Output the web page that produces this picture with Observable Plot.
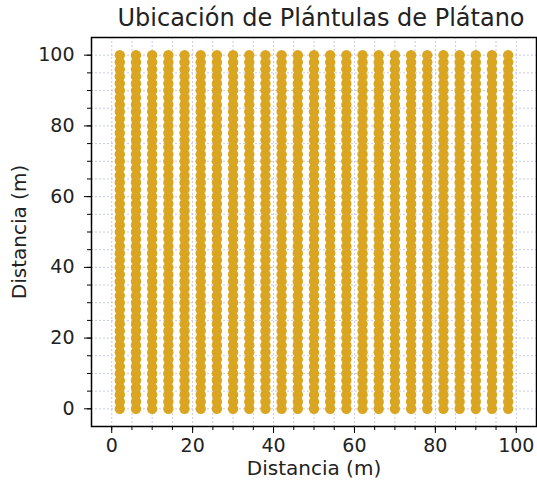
<!DOCTYPE html>
<html>
<head>
<meta charset="utf-8">
<script src="https://cdn.jsdelivr.net/npm/d3@7"></script>
<script src="https://cdn.jsdelivr.net/npm/@observablehq/plot@0.6"></script>
<style>
  html, body { margin: 0; padding: 0; background: #fff; }
  #chart svg { display: block; }
</style>
</head>
<body>
<div id="chart"></div>
<script>
// Column positions (m) of the plant rows
const columnX = [2, 6, 10, 14, 18, 22, 26, 30, 34, 38, 42, 46, 50, 54, 58, 62, 66, 70, 74, 78, 82, 86, 90, 94, 98];
// Positions (m) of the plants along each row
const rowY = [0, 2, 4, 6, 8, 10, 12, 14, 16, 18, 20, 22, 24, 26, 28, 30, 32, 34, 36, 38, 40, 42, 44, 46, 48, 50,
              52, 54, 56, 58, 60, 62, 64, 66, 68, 70, 72, 74, 76, 78, 80, 82, 84, 86, 88, 90, 92, 94, 96, 98, 100];
const majorTicks = [0, 20, 40, 60, 80, 100];
const minorTicks = [0, 5, 10, 15, 20, 25, 30, 35, 40, 45, 50, 55, 60, 65, 70, 75, 80, 85, 90, 95, 100];
const titleText = "Ubicación de Plántulas de Plátano";
const xLabelText = "Distancia (m)";
const yLabelText = "Distancia (m)";

const plants = columnX.flatMap(x => rowY.map(y => ({x, y})));

const gridStyle = {stroke: "#b7bfd6", strokeOpacity: 1, strokeWidth: 0.8, strokeDasharray: "2,2"};

const chart = Plot.plot({
  width: 537,
  height: 481,
  marginLeft: 91,
  marginRight: 1,
  marginTop: 37,
  marginBottom: 55,
  style: {fontFamily: "'DejaVu Sans', sans-serif", fontSize: "19px", color: "#222", background: "#fff"},
  x: {domain: [-5, 105], label: null},
  y: {domain: [-5, 105], label: null},
  marks: [
    Plot.gridX(minorTicks, gridStyle),
    Plot.gridY(minorTicks, gridStyle),
    Plot.dot(plants, {x: "x", y: "y", r: 5.2, fill: "#DAA520", stroke: "none"}),
    Plot.frame({stroke: "#000", strokeWidth: 1.5}),
    Plot.axisX(minorTicks, {tickSize: 4, tickFormat: () => "", label: null, stroke: "#000"}),
    Plot.axisY(minorTicks, {tickSize: 4, tickFormat: () => "", label: null, stroke: "#000"}),
    Plot.axisX(majorTicks, {tickSize: 7, tickPadding: 5, label: null, stroke: "#000", fill: "#222", fontSize: 19}),
    Plot.axisY(majorTicks, {tickSize: 7, tickPadding: 10, label: null, stroke: "#000", fill: "#222", fontSize: 19}),
    Plot.text([xLabelText], {text: d => d, frameAnchor: "bottom", lineAnchor: "middle", dy: 42, fontSize: 20, fill: "#222"}),
    Plot.text([yLabelText], {text: d => d, frameAnchor: "left", textAnchor: "middle", lineAnchor: "middle", dx: -72, rotate: -90, fontSize: 20, fill: "#222"}),
    Plot.text([titleText], {text: d => d, frameAnchor: "top", lineAnchor: "middle", dx: 7, dy: -19, fontSize: 24, fill: "#222"})
  ]
});

document.getElementById("chart").appendChild(chart);
</script>
</body>
</html>
